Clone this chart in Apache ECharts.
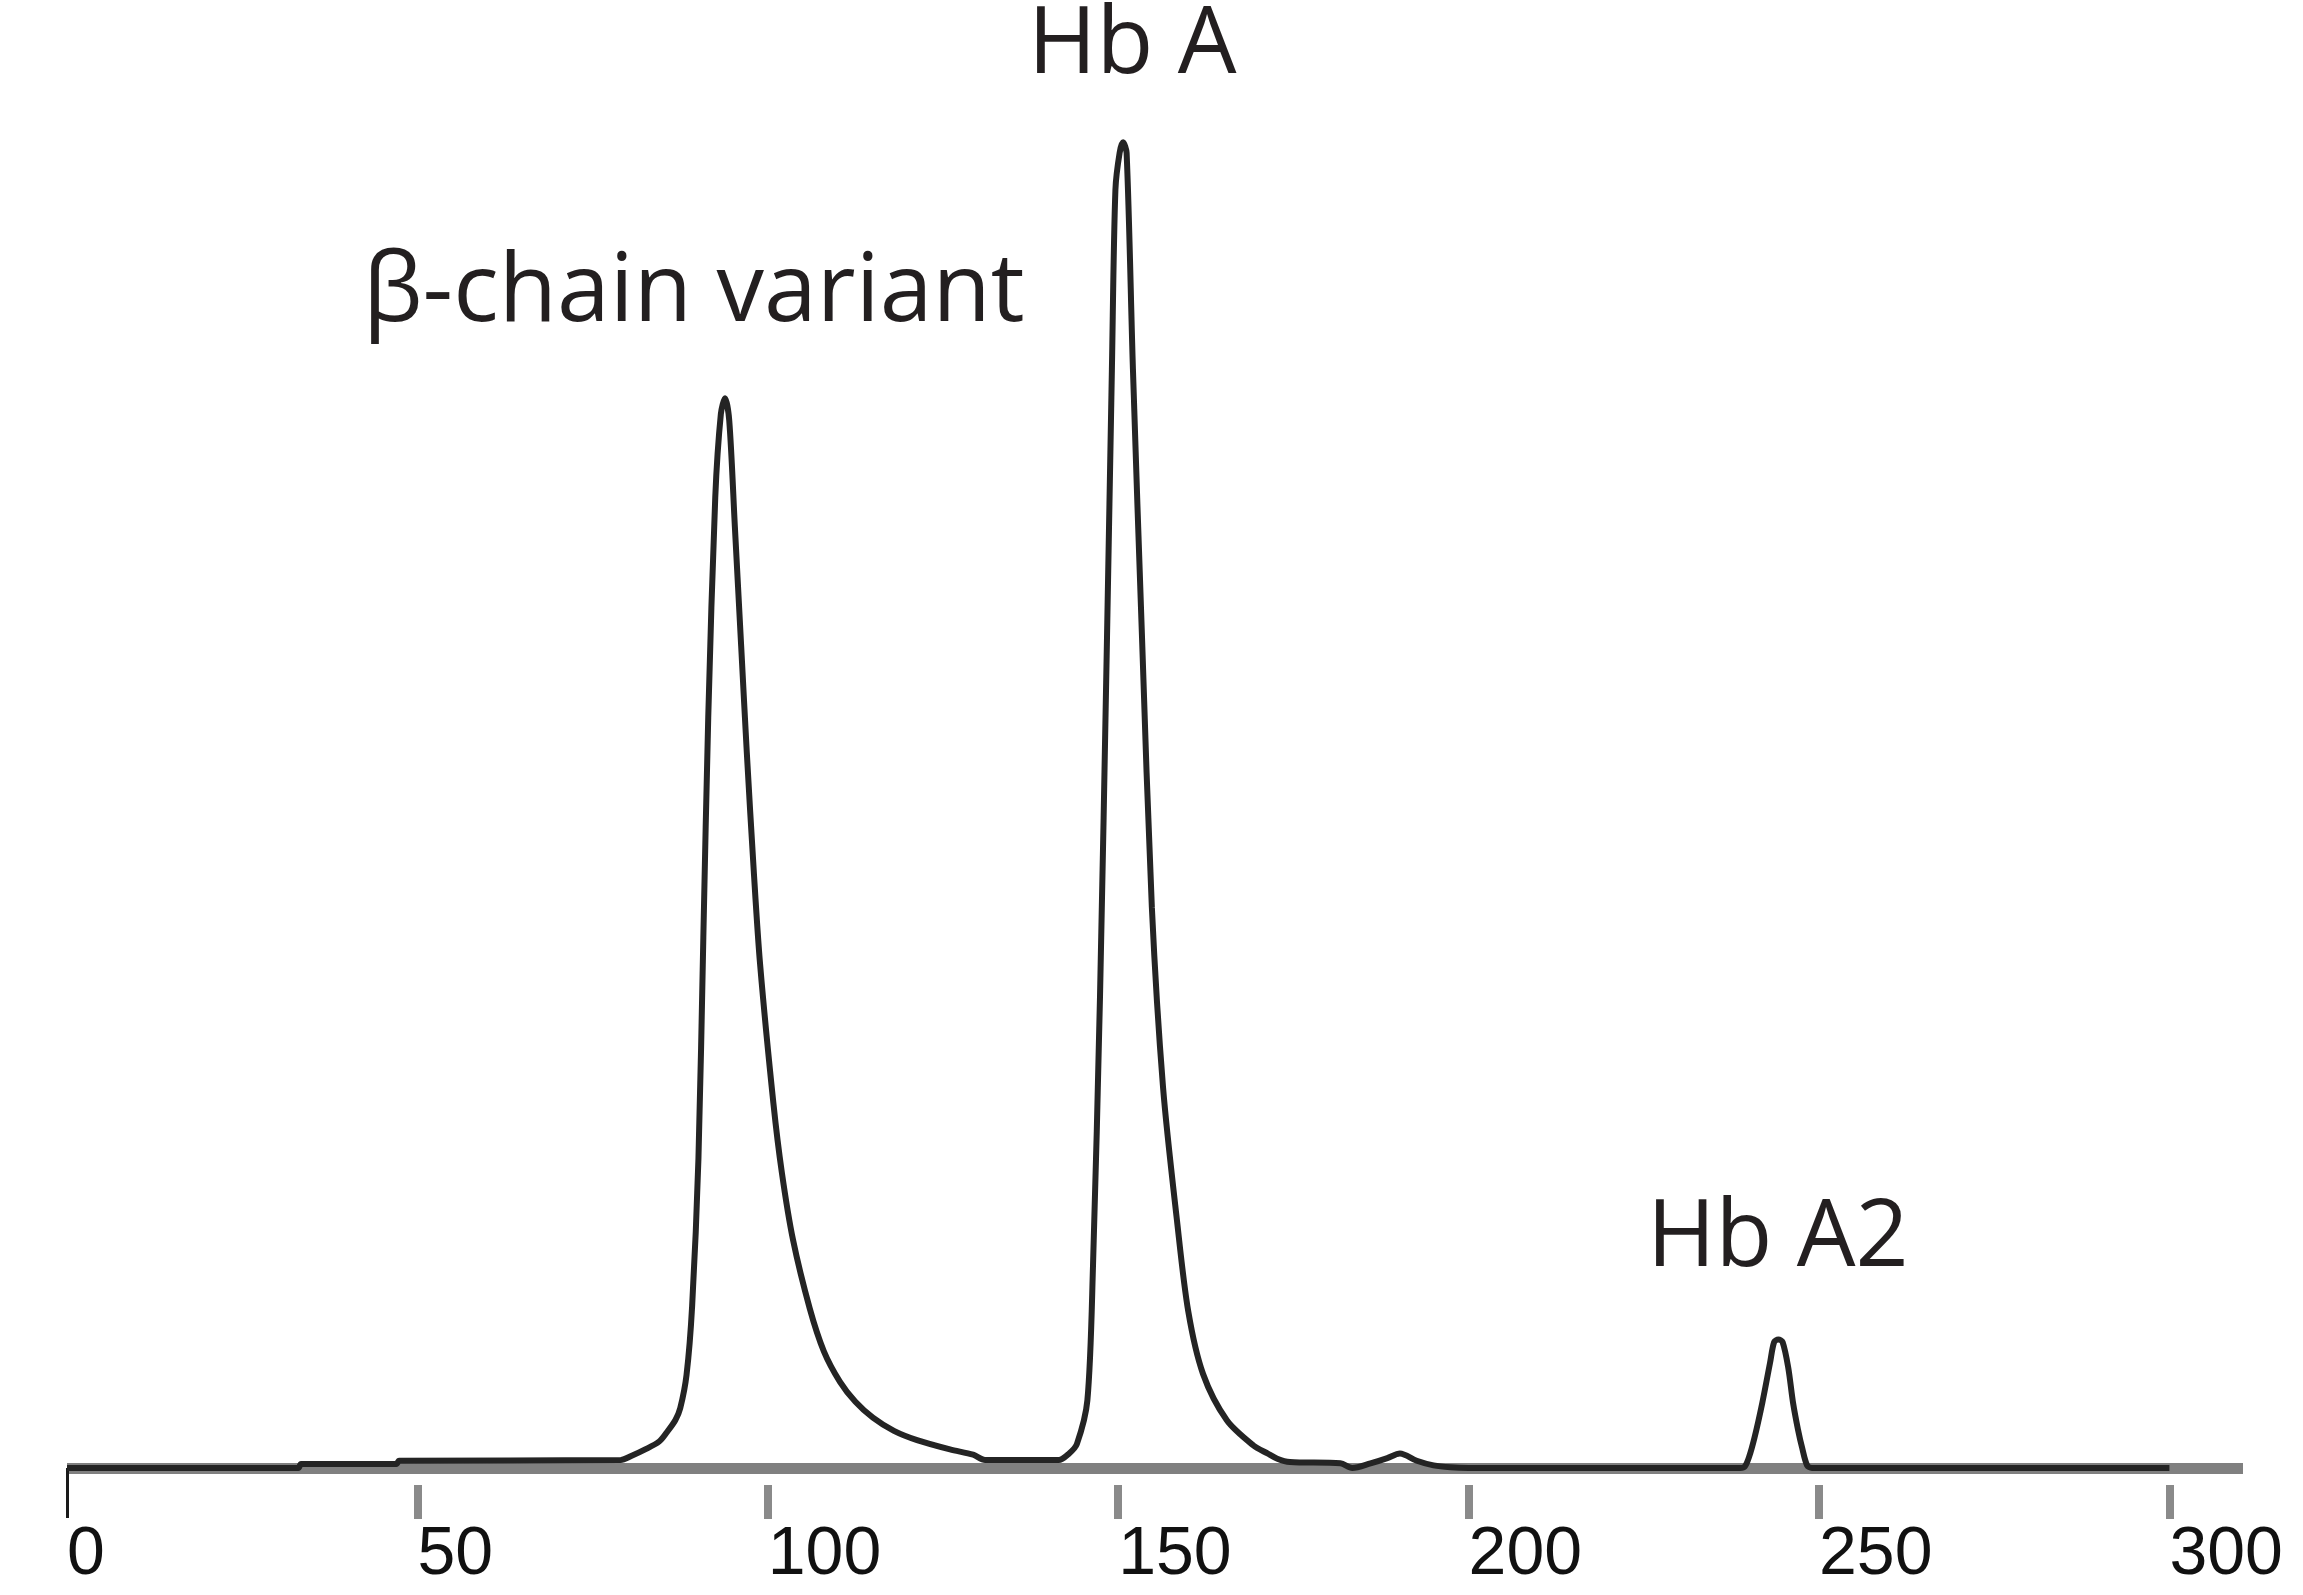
<!DOCTYPE html>
<html>
<head>
<meta charset="utf-8">
<script src="https://cdn.jsdelivr.net/npm/echarts@6/dist/echarts.min.js"></script>
<style>
  html, body { margin: 0; padding: 0; background: #ffffff; }
  #chart { width: 2303px; height: 1595px; }
</style>
</head>
<body>
<div id="chart"></div>
<script>
// Retention time (x) and detector signal (y, relative units; Hb A peak = 100)
const retentionTime = [
  0, 33.0, 33.4, 47.0, 47.4, 79.0, 80.5, 82.5, 84.5, 85.6,
  86.8, 87.5, 88.4, 89.2, 90.1, 90.8, 91.5, 92.5, 93.3, 93.9,
  94.5, 95.3, 96.2, 97.0, 98.0, 98.9, 100.8, 102.0, 103.6, 106.0,
  108.0, 110.3, 112.5, 115.0, 118.0, 121.3, 126.0, 129.3, 131.0, 141.5,
  143.0, 144.1, 145.6, 146.4, 147.4, 148.4, 149.1, 149.6, 150.2, 150.7,
  151.2, 152.1, 153.4, 154.8, 156.4, 158.4, 160.0, 162.1, 165.5, 169.3,
  171.3, 172.7, 174.5, 181.7, 183.4, 186.0, 188.4, 190.2, 192.6, 195.0,
  197.4, 200.0, 238.8, 239.4, 240.0, 240.8, 241.9, 243.0, 243.6, 244.2,
  244.8, 245.6, 246.3, 247.0, 247.6, 248.3, 249.0, 300
];
const signal = [
  0, 0, 0.3, 0.3, 0.55, 0.6, 0.9, 1.4, 2.0, 2.7,
  3.6, 4.5, 7.0, 12.2, 23.3, 40.0, 56.6, 73.2, 79.5, 80.7,
  79.0, 71.0, 62.0, 54.0, 45.0, 38.0, 27.5, 22.3, 17.2, 12.0,
  8.8, 6.5, 5.0, 3.8, 2.8, 2.1, 1.4, 1.0, 0.6, 0.6,
  1.1, 1.8, 5.1, 15.2, 35.5, 62.6, 82.9, 96.4, 99.2, 100,
  99.2, 82.9, 62.6, 42.3, 28.7, 18.6, 11.8, 7.1, 3.6, 1.7,
  1.1, 0.7, 0.45, 0.35, 0, 0.35, 0.75, 1.1, 0.55, 0.2,
  0.05, 0, 0, 0.1, 0.8, 2.3, 4.9, 7.9, 9.5, 9.7,
  9.5, 7.6, 4.9, 2.9, 1.5, 0.2, 0, 0
];
const tickValues = [50, 100, 150, 200, 250, 300];
const tickLabels = [0, 50, 100, 150, 200, 250, 300];
const peakNames = ['β-chain variant', 'Hb A', 'Hb A2'];

const seriesData = retentionTime.map((t, i) => [t, signal[i]]);

const chart = echarts.init(document.getElementById('chart'), null, { renderer: 'canvas' });
const fontStack = '"Open Sans", "Noto Sans", sans-serif';
const labelColor = '#231f20';

chart.setOption({
  backgroundColor: '#ffffff',
  animation: false,
  grid: { left: 67, right: 60, top: 76, bottom: 127, containLabel: false },
  xAxis: [
    {
      type: 'value', min: 0, max: 310.5, position: 'bottom',
      axisLine: { show: true, lineStyle: { color: '#808080', width: 11, cap: 'butt' } },
      axisTick: { show: true, customValues: [0], length: 50, inside: false,
                  lineStyle: { color: '#1a1a1a', width: 3 } },
      axisLabel: { show: false },
      splitLine: { show: false }
    },
    {
      type: 'value', min: 0, max: 310.5, position: 'bottom', offset: 17,
      axisLine: { show: false },
      axisTick: { show: true, customValues: tickValues, length: 34,
                  lineStyle: { color: '#8a8a8a', width: 8 } },
      axisLabel: { show: true, customValues: tickLabels, margin: 36,
                   align: 'left', color: '#111111',
                   fontFamily: '"Liberation Sans", Arial, sans-serif', fontSize: 68 },
      splitLine: { show: false }
    }
  ],
  yAxis: {
    type: 'value', min: 0, max: 105, show: false,
    splitLine: { show: false }
  },
  series: [{
    type: 'line',
    xAxisIndex: 0,
    data: seriesData,
    showSymbol: false,
    symbol: 'none',
    smooth: 0.3,
    lineStyle: { color: '#242424', width: 6 },
    z: 3
  }],
  graphic: [
    { type: 'text', left: 1028, top: 0, silent: true,
      style: { text: peakNames[1], font: '93px ' + fontStack, fill: labelColor } },
    { type: 'text', left: 363, top: 246, silent: true,
      style: { text: peakNames[0], font: '95px ' + fontStack, fill: labelColor } },
    { type: 'text', left: 1647, top: 1193, silent: true,
      style: { text: peakNames[2], font: '93px ' + fontStack, fill: labelColor } }
  ]
});
</script>
</body>
</html>
